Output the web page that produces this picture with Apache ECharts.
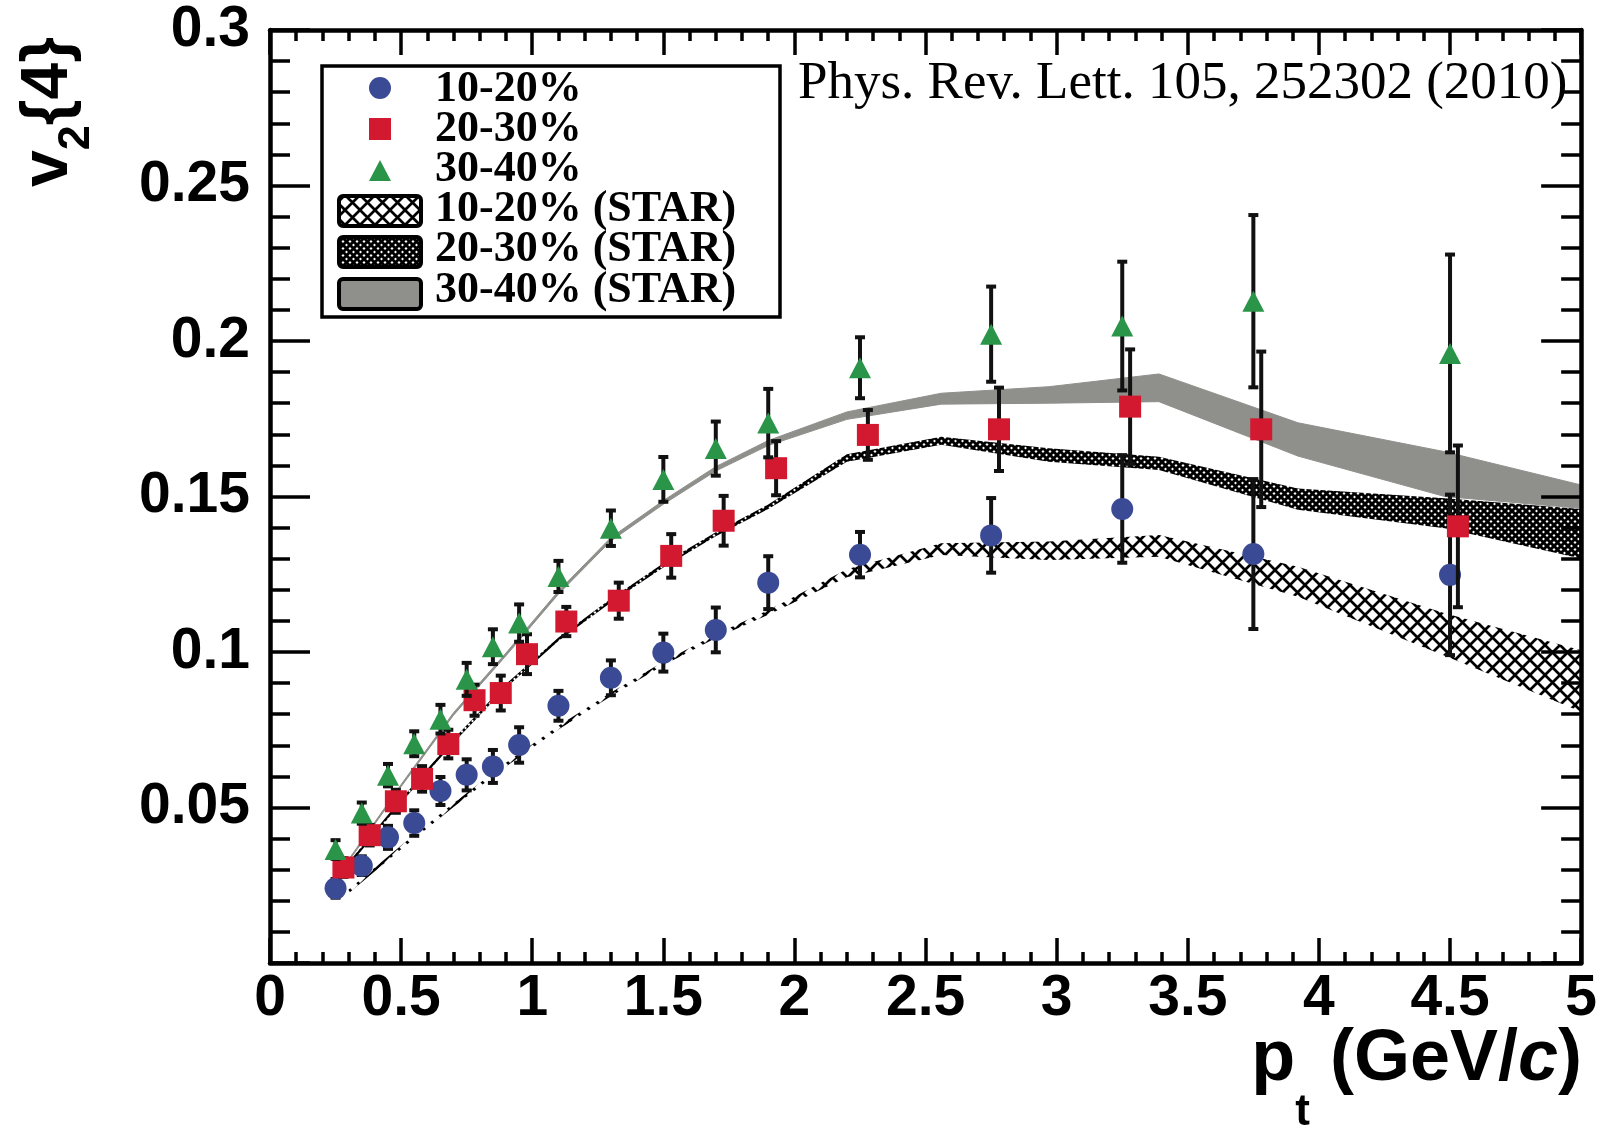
<!DOCTYPE html>
<html>
<head>
<meta charset="utf-8">
<script src="https://cdn.jsdelivr.net/npm/echarts@6/dist/echarts.min.js"></script>
<style>
html,body{margin:0;padding:0;background:#fff;}
#main{width:1600px;height:1128px;}
</style>
</head>
<body>
<div id="main"></div>
<script>
// measured points, v2{4} vs pt
var pt1020 = [0.25, 0.35, 0.45, 0.55, 0.65, 0.75, 0.85, 0.95, 1.1, 1.3, 1.5, 1.7, 1.9, 2.25, 2.75, 3.25, 3.75, 4.5];
var v1020 = [0.024, 0.0313, 0.0404, 0.0450, 0.0553, 0.0605, 0.0632, 0.0701, 0.0827, 0.0917, 0.0998, 0.1071, 0.1223, 0.1313, 0.1375, 0.1460, 0.1315, 0.1248];
var e1020 = [0.003, 0.003, 0.0037, 0.0041, 0.0045, 0.005, 0.0053, 0.0057, 0.0048, 0.0056, 0.0061, 0.0072, 0.0085, 0.0073, 0.012, 0.0173, 0.0241, 0.0258];

var pt2030 = [0.28, 0.38, 0.48, 0.58, 0.68, 0.78, 0.88, 0.98, 1.13, 1.33, 1.53, 1.73, 1.93, 2.28, 2.78, 3.28, 3.78, 4.53];
var v2030 = [0.0307, 0.0411, 0.0520, 0.0592, 0.0704, 0.0845, 0.0868, 0.0993, 0.1098, 0.1165, 0.1309, 0.1422, 0.1591, 0.1698, 0.1716, 0.1789, 0.1716, 0.1404];
var e2030 = [0.003, 0.0033, 0.0037, 0.0041, 0.0046, 0.005, 0.0056, 0.0064, 0.0047, 0.0058, 0.007, 0.008, 0.0087, 0.008, 0.0134, 0.0184, 0.025, 0.026];

var pt3040 = [0.25, 0.35, 0.45, 0.55, 0.65, 0.75, 0.85, 0.95, 1.1, 1.3, 1.5, 1.7, 1.9, 2.25, 2.75, 3.25, 3.75, 4.5];
var v3040 = [0.0365, 0.0482, 0.0604, 0.0705, 0.0784, 0.0912, 0.1017, 0.1093, 0.1243, 0.1398, 0.1555, 0.1654, 0.1736, 0.1914, 0.2022, 0.2048, 0.2128, 0.196];
var e3040 = [0.003, 0.0034, 0.0036, 0.004, 0.0046, 0.0053, 0.0056, 0.006, 0.005, 0.0057, 0.0072, 0.0087, 0.011, 0.0098, 0.0153, 0.0207, 0.0277, 0.0318];

// STAR bands (lower / upper edge)
var starPt = [0.3, 0.5, 0.7, 0.9, 1.1, 1.3, 1.5, 1.7, 1.9, 2.2, 2.56, 2.97, 3.39, 3.92, 4.48, 5.0];
var star1020Lo = [0.0224, 0.0366, 0.0502, 0.0632, 0.0751, 0.0858, 0.0957, 0.1045, 0.1120, 0.1240, 0.1312, 0.1296, 0.1306, 0.1178, 0.0988, 0.0808];
var star1020Hi = [0.0236, 0.0378, 0.0514, 0.0644, 0.0763, 0.0870, 0.0969, 0.1057, 0.1134, 0.1266, 0.1350, 0.1355, 0.1376, 0.1274, 0.1125, 0.1006];
var star2030Lo = [0.0312, 0.0515, 0.0708, 0.0885, 0.1035, 0.1159, 0.1272, 0.1372, 0.1460, 0.1612, 0.1666, 0.1612, 0.1585, 0.1457, 0.1398, 0.1301];
var star2030Hi = [0.0324, 0.0527, 0.0720, 0.0897, 0.1047, 0.1171, 0.1285, 0.1385, 0.1474, 0.1636, 0.1692, 0.1655, 0.1628, 0.1526, 0.1494, 0.1460];
var star3040Lo = [0.0327, 0.0567, 0.0797, 0.0988, 0.1186, 0.1357, 0.1475, 0.1582, 0.1664, 0.1748, 0.1797, 0.1800, 0.1805, 0.1630, 0.1500, 0.1462];
var star3040Hi = [0.0333, 0.0574, 0.0805, 0.0997, 0.1196, 0.1368, 0.1487, 0.1596, 0.1680, 0.1772, 0.1832, 0.1853, 0.1894, 0.1737, 0.1644, 0.1537];

var legendNames = ['10-20%', '20-30%', '30-40%', '10-20% (STAR)', '20-30% (STAR)', '30-40% (STAR)'];

var cBlue = '#3a4a94', cRed = '#d3192f', cGreen = '#2a9449', cGray = '#8f908b';

function hatch(cell, lw) {
    var c = document.createElement('canvas');
    c.width = cell; c.height = cell;
    var g = c.getContext('2d');
    g.fillStyle = '#fff';
    g.fillRect(0, 0, cell, cell);
    g.strokeStyle = '#000';
    g.lineWidth = lw;
    g.beginPath();
    g.moveTo(-2, -2); g.lineTo(cell + 2, cell + 2);
    g.moveTo(cell + 2, -2); g.lineTo(-2, cell + 2);
    g.stroke();
    return c;
}
var patBig = {image: hatch(15, 2.7), repeat: 'repeat'};
var patFine = {image: hatch(7, 2.9), repeat: 'repeat'};

function band(lo, hi, fill, stroke, lw) {
    return {
        type: 'custom', z: 1, silent: true,
        data: [[starPt[0], lo[0]]],
        renderItem: function (params, api) {
            if (params.dataIndex !== 0) return null;
            var pts = [];
            for (var i = 0; i < starPt.length; i++) pts.push(api.coord([starPt[i], lo[i]]));
            for (var j = starPt.length - 1; j >= 0; j--) pts.push(api.coord([starPt[j], hi[j]]));
            return {type: 'polygon', shape: {points: pts}, style: {fill: fill, stroke: stroke, lineWidth: lw}};
        }
    };
}

function errBars(xs, ys, es, z) {
    var d = [];
    for (var i = 0; i < xs.length; i++) d.push([xs[i], ys[i], es[i]]);
    return {
        type: 'custom', z: z, silent: true,
        data: d,
        renderItem: function (params, api) {
            var x = api.value(0), y = api.value(1), e = api.value(2);
            var lo = api.coord([x, y - e]), hi = api.coord([x, y + e]);
            var st = {stroke: '#111', lineWidth: 4};
            return {type: 'group', children: [
                {type: 'line', shape: {x1: lo[0], y1: lo[1], x2: hi[0], y2: hi[1]}, style: st},
                {type: 'line', shape: {x1: lo[0] - 5, y1: lo[1], x2: lo[0] + 5, y2: lo[1]}, style: st},
                {type: 'line', shape: {x1: hi[0] - 5, y1: hi[1], x2: hi[0] + 5, y2: hi[1]}, style: st}
            ]};
        }
    };
}

function pts(xs, ys) {
    var d = [];
    for (var i = 0; i < xs.length; i++) d.push([xs[i], ys[i]]);
    return d;
}

var frameLine = {show: true, onZero: false, lineStyle: {color: '#000', width: 4.5}};
var tickStyle = {color: '#000', width: 3.5};
var numFont = {color: '#000', fontFamily: 'Liberation Sans', fontWeight: 'bold', fontSize: 57};

var myChart = echarts.init(document.getElementById('main'));

var legendY = [90, 130, 170, 210, 250, 291];
var legendItems = [
    {type: 'rect', shape: {x: 322, y: 66, width: 458, height: 251}, style: {fill: '#fff', stroke: '#000', lineWidth: 3.5}},
    {type: 'circle', shape: {cx: 380, cy: 88, r: 11}, style: {fill: cBlue}},
    {type: 'rect', shape: {x: 369, y: 118, width: 22, height: 22}, style: {fill: cRed}},
    {type: 'polygon', shape: {points: [[369, 181], [391, 181], [380, 160]]}, style: {fill: cGreen}},
    {type: 'rect', shape: {x: 339, y: 196, width: 82, height: 30, r: 4}, style: {fill: patBig, stroke: '#000', lineWidth: 4}},
    {type: 'rect', shape: {x: 339, y: 237, width: 82, height: 30, r: 4}, style: {fill: patFine, stroke: '#000', lineWidth: 4}},
    {type: 'rect', shape: {x: 339, y: 279, width: 82, height: 30, r: 4}, style: {fill: cGray, stroke: '#000', lineWidth: 4}}
];
for (var k = 0; k < legendNames.length; k++) {
    legendItems.push({type: 'text', x: 435, y: legendY[k], style: {
        text: legendNames[k], font: 'bold 44px "Liberation Serif"', fill: '#000',
        align: 'left', verticalAlign: 'middle', textAlign: 'left', textVerticalAlign: 'middle'}});
}

option = {
    backgroundColor: '#fff',
    animation: false,
    grid: {left: 270, right: 18, top: 30, bottom: 165},
    xAxis: [{
        type: 'value', min: 0, max: 5, interval: 0.5, position: 'bottom', z: 10,
        axisLine: frameLine,
        axisTick: {inside: true, length: 25, lineStyle: tickStyle},
        minorTick: {show: true, splitNumber: 5, length: 11, lineStyle: tickStyle},
        splitLine: {show: false},
        axisLabel: Object.assign({margin: 8, formatter: function (v) { return String(v); }}, numFont)
    }, {
        type: 'value', min: 0, max: 5, interval: 0.5, position: 'top', z: 10,
        axisLine: frameLine,
        axisTick: {inside: true, length: 25, lineStyle: tickStyle},
        minorTick: {show: true, splitNumber: 5, length: 11, lineStyle: tickStyle},
        splitLine: {show: false},
        axisLabel: {show: false}
    }],
    yAxis: [{
        type: 'value', min: 0, max: 0.3, interval: 0.05, position: 'left', z: 10,
        axisLine: frameLine,
        axisTick: {inside: true, length: 40, lineStyle: tickStyle},
        minorTick: {show: true, splitNumber: 5, length: 20, lineStyle: tickStyle},
        splitLine: {show: false},
        axisLabel: Object.assign({margin: 20, formatter: function (v) { return v === 0 ? '' : String(v); }}, numFont)
    }, {
        type: 'value', min: 0, max: 0.3, interval: 0.05, position: 'right', z: 10,
        axisLine: frameLine,
        axisTick: {inside: true, length: 40, lineStyle: tickStyle},
        minorTick: {show: true, splitNumber: 5, length: 20, lineStyle: tickStyle},
        splitLine: {show: false},
        axisLabel: {show: false}
    }],
    graphic: legendItems.concat([
        {type: 'text', x: 798, y: 84, style: {
            text: 'Phys. Rev. Lett. 105, 252302 (2010)', font: '53px "Liberation Serif"', fill: '#000',
            align: 'left', verticalAlign: 'middle', textAlign: 'left', textVerticalAlign: 'middle'}},
        {type: 'text', x: 49, y: 112, rotation: Math.PI / 2, style: {
            text: 'v{s|2}{4}', font: 'bold 66px "Liberation Sans"', fill: '#000',
            align: 'center', verticalAlign: 'middle', textAlign: 'center', textVerticalAlign: 'middle',
            rich: {s: {fontSize: 45, fontWeight: 'bold', fontFamily: 'Liberation Sans', padding: [56, 0, 0, 0]}}}},
        {type: 'text', x: 1582, y: 1060, style: {
            text: '{m|p}{s|t}{m| (GeV/}{i|c}{m|)}', font: 'bold 72px "Liberation Sans"', fill: '#000',
            align: 'right', verticalAlign: 'middle', textAlign: 'right', textVerticalAlign: 'middle',
            rich: {
                m: {fontSize: 72, fontWeight: 'bold', fontFamily: 'Liberation Sans'},
                s: {fontSize: 44, fontWeight: 'bold', fontFamily: 'Liberation Sans', padding: [106, 0, 0, 0]},
                i: {fontSize: 72, fontWeight: 'bold', fontStyle: 'italic', fontFamily: 'Liberation Sans'}
            }}}
    ]),
    series: [
        band(star1020Lo, star1020Hi, patBig, null, 0),
        band(star2030Lo, star2030Hi, patFine, null, 0),
        band(star3040Lo, star3040Hi, cGray, cGray, 1),
        errBars(pt1020, v1020, e1020, 3),
        {type: 'scatter', z: 4, symbol: 'circle', symbolSize: 22, itemStyle: {color: cBlue, opacity: 1}, data: pts(pt1020, v1020)},
        errBars(pt2030, v2030, e2030, 5),
        {type: 'scatter', z: 6, symbol: 'rect', symbolSize: 22, itemStyle: {color: cRed, opacity: 1}, data: pts(pt2030, v2030)},
        errBars(pt3040, v3040, e3040, 7),
        {type: 'scatter', z: 8, symbol: 'triangle', symbolSize: [22, 21], itemStyle: {color: cGreen, opacity: 1}, data: pts(pt3040, v3040)}
    ]
};

myChart.setOption(option);
</script>
</body>
</html>
